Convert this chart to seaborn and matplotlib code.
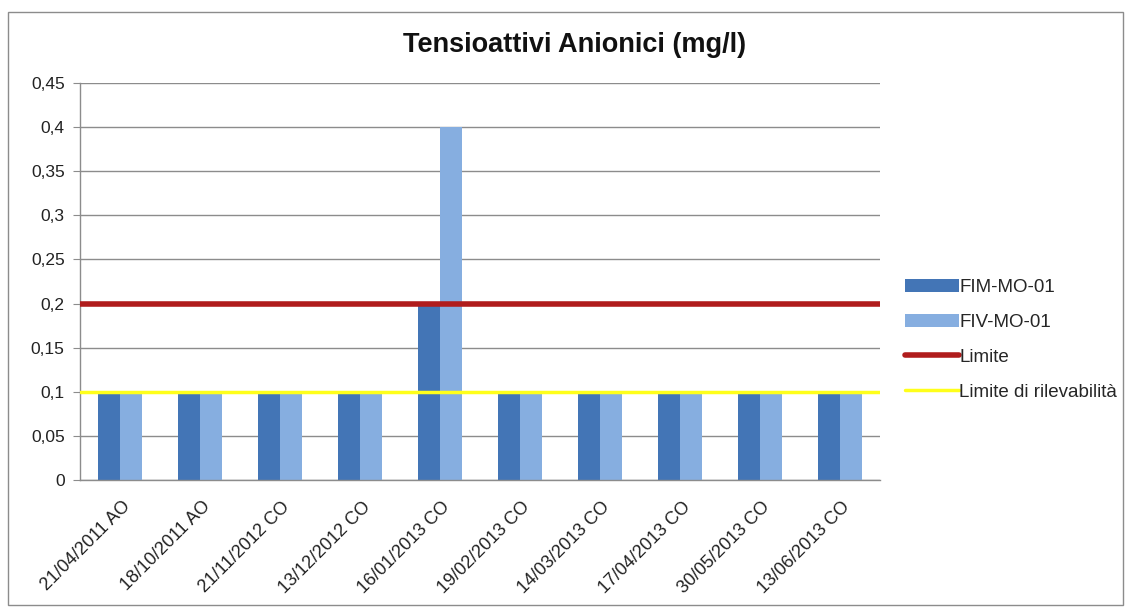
import matplotlib
matplotlib.use("Agg")
import matplotlib.pyplot as plt
import seaborn as sns
import pandas as pd
import numpy as np
from matplotlib.patches import Patch, Rectangle
from matplotlib.lines import Line2D

categories = ["21/04/2011 AO", "18/10/2011 AO", "21/11/2012 CO", "13/12/2012 CO",
              "16/01/2013 CO", "19/02/2013 CO", "14/03/2013 CO", "17/04/2013 CO",
              "30/05/2013 CO", "13/06/2013 CO"]
fim_values = [0.1, 0.1, 0.1, 0.1, 0.2, 0.1, 0.1, 0.1, 0.1, 0.1]
fiv_values = [0.1, 0.1, 0.1, 0.1, 0.4, 0.1, 0.1, 0.1, 0.1, 0.1]
limite = 0.2
limite_rilevabilita = 0.1
yticks = [0, 0.05, 0.1, 0.15, 0.2, 0.25, 0.3, 0.35, 0.4, 0.45]
ytick_labels = ["0", "0,05", "0,1", "0,15", "0,2", "0,25", "0,3", "0,35", "0,4", "0,45"]

df = pd.DataFrame({
    "cat": categories * 2,
    "val": fim_values + fiv_values,
    "serie": ["FIM-MO-01"] * len(categories) + ["FIV-MO-01"] * len(categories),
})

c_fim = "#4375b6"
c_fiv = "#86aee0"
c_lim = "#b01c1c"
c_ril = "#ffff1a"

sns.set_style("white")
plt.rcParams['font.family'] = ['Liberation Sans', 'DejaVu Sans']

fig = plt.figure(figsize=(11.3, 6.1), dpi=100)
ax = fig.add_axes([80/1130, 130/610, 800/1130, 397/610])

sns.barplot(data=df, x="cat", y="val", hue="serie", palette=[c_fim, c_fiv],
            width=0.56, dodge=True, ax=ax, legend=False, saturation=1,
            linewidth=0, zorder=2)

ax.axhline(limite, color=c_lim, lw=4, zorder=3)
ax.axhline(limite_rilevabilita, color=c_ril, lw=2.5, zorder=3)

ax.set_xlim(-0.5, len(categories) - 0.5)
ax.set_ylim(0, 0.45)
ax.set_yticks(yticks)
ax.set_yticklabels(ytick_labels, fontsize=12.5, color="#222222")
ax.yaxis.grid(True, color="#8c8c8c", lw=1, zorder=0)
ax.set_axisbelow(True)
ax.set_xlabel("")
ax.set_ylabel("")

ax.set_xticks(np.arange(len(categories)) + 0.02)
ax.set_xticklabels(categories, rotation=45, ha="right", rotation_mode="anchor",
                   fontsize=13, color="#222222")
ax.tick_params(axis="x", which="major", length=0, pad=13)
ax.set_xticks(np.arange(-0.5, len(categories), 1.0), minor=True)
ax.tick_params(axis="x", which="minor", length=5, color="#8c8c8c", direction="out")
ax.tick_params(axis="y", length=5, color="#8c8c8c", direction="out", left=True, pad=6)

for s in ["top", "right"]:
    ax.spines[s].set_visible(False)
for s in ["left", "bottom"]:
    ax.spines[s].set_color("#8c8c8c")
    ax.spines[s].set_linewidth(1)

fig.text(575/1130, 1 - 45/610, "Tensioattivi Anionici (mg/l)", ha="center", va="center",
         fontsize=19.5, fontweight="bold", color="#111111")

handles = [Patch(facecolor=c_fim, edgecolor="none"), Patch(facecolor=c_fiv, edgecolor="none"),
           Line2D([], [], color=c_lim, lw=4), Line2D([], [], color=c_ril, lw=2.5)]
labels = ["FIM-MO-01", "FIV-MO-01", "Limite", "Limite di rilevabilità"]
fig.legend(handles, labels, loc="center left", bbox_to_anchor=(905/1130, 1 - 340/610),
           frameon=False, fontsize=13.5, handlelength=2.9, handletextpad=0.0,
           labelspacing=0.95, borderaxespad=0, borderpad=0)

fig.add_artist(Rectangle((8/1130, 5/610), 1115/1130, 593/610, transform=fig.transFigure,
                         fill=False, edgecolor="#8c8c8c", lw=1))

fig.savefig("out.png", dpi=100, facecolor="white")
